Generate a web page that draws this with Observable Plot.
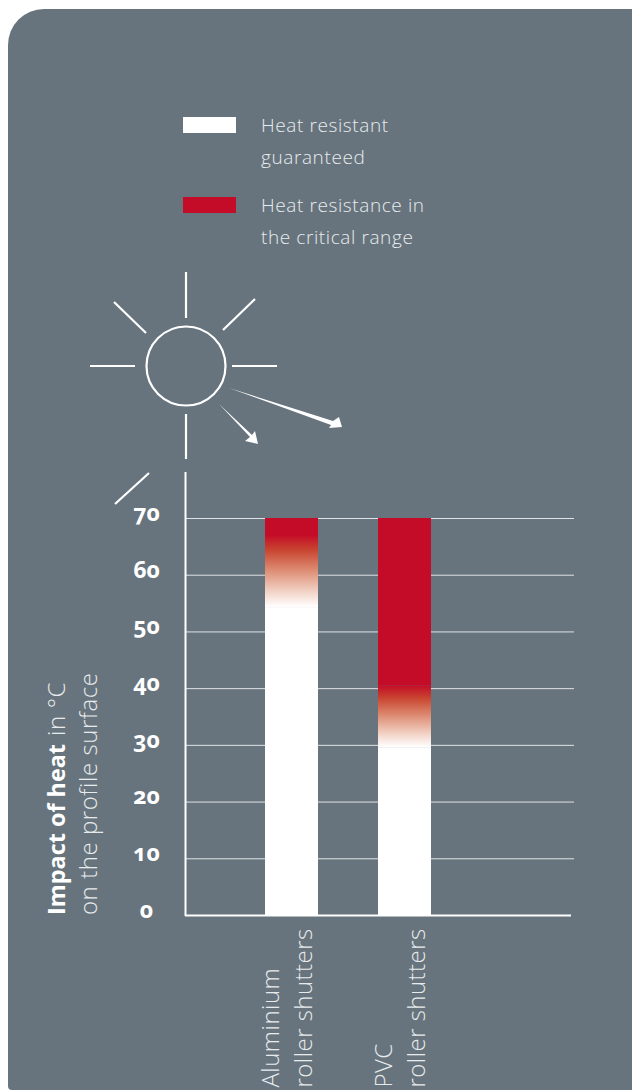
<!DOCTYPE html>
<html><head><meta charset="utf-8">
<script src="https://cdn.jsdelivr.net/npm/d3@7"></script>
<script src="https://cdn.jsdelivr.net/npm/@observablehq/plot@0.6"></script>
<style>
html,body{margin:0;padding:0;background:#fff;width:632px;height:1090px;overflow:hidden}
#panel{position:absolute;left:8px;top:9px;width:624px;height:1081px;background:#67747d;border-radius:36px 0 0 4px;}
#chart{position:absolute;left:0;top:0}
#chart svg{background:transparent;display:block}
#chart g[aria-label="text"]{letter-spacing:.45px}
.lg{position:absolute;left:261px;font:300 19px/31.5px "Open Sans",sans-serif;color:#e8ebed;letter-spacing:.6px;white-space:nowrap}
.sw{position:absolute;left:183px;width:53px;height:16px}
</style></head><body>
<div id="panel"></div>
<div class="sw" style="top:117px;background:#fff"></div>
<div class="lg" style="top:110px">Heat resistant<br>guaranteed</div>
<div class="sw" style="top:197px;background:#c40c28"></div>
<div class="lg" style="top:190px">Heat resistance in<br>the critical range</div>
<div id="chart"></div>
<script>
const categories = ["Aluminium\nroller shutters", "PVC\nroller shutters"];
const guaranteedTop = [54.3, 29.6];
const fadeTop = [67, 40.5];
const maxTemp = [70, 70];
const yTicks = [0, 10, 20, 30, 40, 50, 60, 70];
const whiteC = "#fff", redC = "#c40c28", inkC = "#e8ebed";

const whiteBars = categories.map((c, i) => ({c, y1: 0, y2: guaranteedTop[i]}));
const fadeBars = categories.map((c, i) => ({c, y1: guaranteedTop[i], y2: fadeTop[i]}));
const redBars = categories.map((c, i) => ({c, y1: fadeTop[i], y2: maxTemp[i]}));

const defs = () => {
  const s = d3.create("svg:defs");
  const g = s.append("linearGradient").attr("id", "fade").attr("x1", 0).attr("x2", 0).attr("y1", 0).attr("y2", 1);
  for (const [o, c] of [[0, redC], [.2, "#c8432f"], [.5, "#de8f76"], [.8, "#f3d6ca"], [1, "#fff"]])
    g.append("stop").attr("offset", o).attr("stop-color", c);
  return s.node();
};

const sun = () => {
  const g = d3.create("svg:g").attr("fill", "none").attr("stroke", "#fff").attr("stroke-width", 2.2);
  g.append("circle").attr("cx", 186).attr("cy", 366).attr("r", 39.5);
  for (const [a, b, c, d] of [[186,272,186,318],[186,414,186,459],[90,366,135,366],[232,366,277,366],
    [114,302,146,333],[255,299,223,330],[149,473,115,504]])
    g.append("line").attr("x1", a).attr("y1", b).attr("x2", c).attr("y2", d);
  g.append("path").attr("fill", "#fff").attr("stroke", "none").attr("d", "M229 388L333 421L339 417L342 427L329 428L331 425Z");
  g.append("path").attr("fill", "#fff").attr("stroke", "none").attr("d", "M219 404L252 435L255 431L258 444L245 441L250 437Z");
  return g.node();
};

const yAxisLine = (index, {y}) => {
  const l = d3.create("svg:line").attr("x1", 185.5).attr("x2", 185.5).attr("y1", y(0) + 1).attr("y2", 472)
    .attr("stroke", "#fff").attr("stroke-width", 2);
  return l.node();
};

const yTitle = (index, {y}) => {
  const t = d3.create("svg:text").attr("transform", `translate(0,${y(0)}) rotate(-90)`)
    .attr("text-anchor", "start")
    .attr("font-family", "Open Sans,sans-serif").attr("font-size", 24).attr("fill", inkC).attr("font-weight", 300);
  const a = t.append("tspan").attr("x", 0).attr("y", 65);
  a.append("tspan").attr("font-weight", 700).attr("font-size", 23.4).attr("fill", "#fff").text("Impact of heat");
  a.append("tspan").attr("letter-spacing", .6).attr("dx", 8).text("in °C");
  t.append("tspan").attr("x", 0).attr("y", 97).attr("letter-spacing", .55).text("on the profile surface");
  return t.node();
};

const plot = Plot.plot({
  width: 632, height: 1090,
  marginLeft: 185, marginRight: 58, marginTop: 518, marginBottom: 3,
  style: {background: "transparent"},
  x: {type: "band", domain: categories, range: [265, 431], paddingInner: 0.531, paddingOuter: 0, align: 0, axis: null, round: false},
  y: {domain: [0, 70], range: [915, 518], axis: null},
  marks: [
    defs,
    Plot.ruleY(yTicks.filter(d => d > 0), {stroke: "#fff", strokeOpacity: .8, strokeWidth: 1}),
    Plot.ruleY([0], {stroke: "#fff", strokeWidth: 2, insetRight: 3}),
    yAxisLine,
    Plot.barY(whiteBars, {x: "c", y1: "y1", y2: "y2", fill: whiteC}),
    Plot.barY(fadeBars, {x: "c", y1: "y1", y2: "y2", fill: "url(#fade)"}),
    Plot.barY(redBars, {x: "c", y1: "y1", y2: "y2", fill: redC}),
    Plot.axisY({ticks: yTicks, tickSize: 0, tickPadding: 39, textAnchor: "middle", label: null, dy: -5,
      fontFamily: "Open Sans", fontSize: 23, fontWeight: 700, fill: "#fff", fontVariant: "oldstyle-nums"}),
    Plot.text(categories, {x: d => d, frameAnchor: "bottom", rotate: -90, textAnchor: "start", dx: 20, dy: 0,
      fontFamily: "Open Sans", fontWeight: 300, fontSize: 24, lineHeight: 1.36, fill: inkC}),
    yTitle,
    sun
  ]
});
document.getElementById("chart").appendChild(plot);
</script>
</body></html>
